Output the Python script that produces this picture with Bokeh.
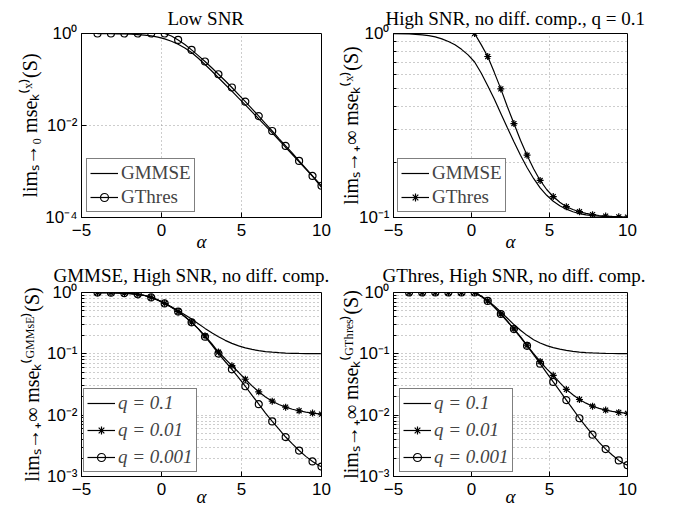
from bokeh.plotting import figure
from bokeh.layouts import column, row
from bokeh.models import (Range1d, FixedTicker, CustomJSTickFormatter, Legend,
                          LegendItem, Title)
from bokeh.embed import file_html
from bokeh.resources import INLINE

# ------------------------------------------------------------------ data
alpha = [-4.0, -3.58, -3.16, -2.74, -2.32, -1.9, -1.48, -1.06, -0.64, -0.22,
         0.2, 0.62, 1.04, 1.46, 1.88, 2.3, 2.72, 3.14, 3.56, 3.98,
         4.4, 4.82, 5.24, 5.66, 6.08, 6.5, 6.92, 7.34, 7.76, 8.18,
         8.6, 9.02, 9.44, 9.86, 10.0]
alpha_from_02 = [0.2, 0.62, 1.04, 1.46, 1.88, 2.3, 2.72, 3.14, 3.56, 3.98,
                 4.4, 4.82, 5.24, 5.66, 6.08, 6.5, 6.92, 7.34, 7.76, 8.18,
                 8.6, 9.02, 9.44, 9.86, 10.0]
alpha_tr_gmmse = [-5.0, -4.0, -3.58, -3.16, -2.74, -2.32, -1.9, -1.48, -1.06, -0.64,
                  -0.22, 0.2, 0.62, 1.04, 1.46, 1.88, 2.3, 2.72, 3.14, 3.56,
                  3.98, 4.4, 4.82, 5.24, 5.66, 6.08, 6.5, 6.92, 7.34, 7.76,
                  8.18, 8.6, 9.02, 9.44, 9.86, 10.0]

# Low SNR
tl_gmmse = [0.997, 0.995, 0.99, 0.984, 0.976, 0.964, 0.947, 0.922, 0.888, 0.835,
            0.765, 0.68, 0.585, 0.485, 0.385, 0.29, 0.212, 0.153, 0.109, 0.078,
            0.056, 0.0395, 0.028, 0.0197, 0.0139, 0.0098, 0.0069, 0.0048, 0.00335, 0.00234,
            0.00163, 0.00113, 0.00078, 0.00052, 0.00045]
tl_gthres = [1.0, 1.0, 1.0, 1.0, 1.0, 1.0, 1.0, 1.0, 1.0, 1.0,
             1.0, 0.88, 0.726, 0.575, 0.44, 0.33, 0.246, 0.18, 0.13, 0.094,
             0.067, 0.047, 0.033, 0.023, 0.016, 0.011, 0.0076, 0.0052, 0.0036, 0.0025,
             0.0017, 0.00117, 0.0008, 0.00055, 0.00049]

# High SNR, q = 0.1
tr_gmmse = [0.998, 0.995, 0.99, 0.983, 0.973, 0.958, 0.935, 0.905, 0.868, 0.82,
            0.765, 0.70, 0.61, 0.52, 0.44, 0.368, 0.307, 0.258, 0.218, 0.187,
            0.163, 0.145, 0.132, 0.1225, 0.1158, 0.111, 0.1075, 0.105, 0.1034, 0.1023,
            0.1016, 0.1011, 0.1007, 0.1005, 0.1003, 0.1003]
tr_gthres = [1.0, 0.87, 0.75, 0.615, 0.50, 0.40, 0.324, 0.263, 0.218, 0.184,
             0.159, 0.142, 0.130, 0.121, 0.1145, 0.1105, 0.1075, 0.1052, 0.1036, 0.1025,
             0.1018, 0.1013, 0.1009, 0.1006, 0.1005]

# GMMSE, high SNR
bl_q1 = [0.998, 0.996, 0.993, 0.987, 0.977, 0.96, 0.935, 0.895, 0.835, 0.755,
         0.67, 0.585, 0.505, 0.435, 0.37, 0.31, 0.26, 0.22, 0.19, 0.166,
         0.148, 0.135, 0.125, 0.118, 0.1128, 0.109, 0.1063, 0.1044, 0.103, 0.102,
         0.1014, 0.101, 0.1007, 0.1005, 0.1004]
bl_q2 = [0.997, 0.995, 0.992, 0.986, 0.976, 0.959, 0.933, 0.893, 0.832, 0.752,
         0.665, 0.575, 0.49, 0.405, 0.328, 0.258, 0.196, 0.146, 0.107, 0.083,
         0.064, 0.050, 0.0385, 0.030, 0.024, 0.0198, 0.0169, 0.0149, 0.0135, 0.0125,
         0.0118, 0.0112, 0.0108, 0.0105, 0.0104]
bl_q3 = [0.997, 0.995, 0.992, 0.986, 0.976, 0.959, 0.933, 0.893, 0.832, 0.752,
         0.664, 0.573, 0.488, 0.403, 0.326, 0.255, 0.19, 0.14, 0.101, 0.075,
         0.056, 0.041, 0.0296, 0.0211, 0.0151, 0.0108, 0.0079, 0.0059, 0.0044, 0.0034,
         0.00265, 0.00213, 0.00176, 0.0015, 0.00145]

# GThres, high SNR
br_q1 = [1.0, 1.0, 1.0, 1.0, 1.0, 1.0, 1.0, 1.0, 1.0, 1.0,
         1.0, 0.875, 0.74, 0.605, 0.48, 0.38, 0.30, 0.243, 0.20, 0.17,
         0.15, 0.136, 0.126, 0.119, 0.1135, 0.1097, 0.107, 0.105, 0.1035, 0.1024,
         0.1017, 0.1012, 0.1008, 0.1006, 0.1005]
br_q2 = [1.0, 1.0, 1.0, 1.0, 1.0, 1.0, 1.0, 1.0, 1.0, 1.0,
         1.0, 0.865, 0.73, 0.578, 0.447, 0.34, 0.256, 0.19, 0.138, 0.101,
         0.075, 0.057, 0.0447, 0.034, 0.0263, 0.0215, 0.018, 0.0157, 0.014, 0.0129,
         0.0121, 0.0115, 0.0111, 0.0108, 0.0107]
br_q3 = [1.0, 1.0, 1.0, 1.0, 1.0, 1.0, 1.0, 1.0, 1.0, 1.0,
         1.0, 0.865, 0.73, 0.577, 0.446, 0.338, 0.253, 0.186, 0.135, 0.097,
         0.069, 0.049, 0.0348, 0.0248, 0.0176, 0.0125, 0.0089, 0.0065, 0.0048, 0.0036,
         0.0028, 0.00224, 0.00183, 0.00158, 0.00153]

x_ticks = [-5, 0, 5, 10]
legend_tl = ["GMMSE", "GThres"]
legend_q = ["q = 0.1", "q = 0.01", "q = 0.001"]
titles = ["Low SNR", "High SNR, no diff. comp., q = 0.1",
          "GMMSE, High SNR, no diff. comp.", "GThres, High SNR, no diff. comp."]
ylabels = ["lim\u209b\u2192\u2080 mse\u2096\u207d\u02e3\u207e(S)",
           "lim\u209b\u2192\u208a\u221e mse\u2096\u207d\u02e3\u207e(S)",
           "lim\u209b\u2192\u208a\u221e mse\u2096\u207d\u1d33\u1d39\u1d39\u02e2\u1d31\u207e(S)",
           "lim\u209b\u2192\u208a\u221e mse\u2096\u207d\u1d33\u1d40\u02b0\u02b3\u1d49\u02e2\u207e(S)"]
xlabel = "\u03b1"

# ------------------------------------------------------------------ style
SERIF = "Liberation Serif"
SANS = "Liberation Sans"
GRID = "#9a9a9a"
LW = 1.2
MS = 7


def make_fig(w, h, bl, br, bt, bb, ylo, yhi, yticks, yminor, xlab_standoff,
             ylab, ylab_standoff, title, t_offset, t_standoff):
    p = figure(width=w, height=h, x_range=Range1d(-5, 10), y_range=Range1d(ylo, yhi),
               y_axis_type="log", output_backend="svg", toolbar_location=None,
               title=None, min_border_left=bl, min_border_right=br,
               min_border_top=bt, min_border_bottom=bb)
    xt = FixedTicker(ticks=x_ticks, minor_ticks=[])
    yt = FixedTicker(ticks=yticks, minor_ticks=yminor)
    p.xaxis.ticker = xt
    p.yaxis.ticker = yt
    p.xgrid.ticker = xt
    p.ygrid.ticker = yt
    p.xaxis.formatter = CustomJSTickFormatter(
        code='return tick < 0 ? "\\u2212" + String(-tick) : String(tick);')
    p.yaxis.formatter = CustomJSTickFormatter(code="""
const sup = {"0":"\\u2070","1":"\\u00b9","2":"\\u00b2","3":"\\u00b3","4":"\\u2074","-":"\\u207b"};
const e = Math.round(Math.log10(tick));
return "10" + String(e).split("").map(c => sup[c]).join("");
""")
    for ax in (p.xaxis[0], p.yaxis[0]):
        ax.major_label_text_font = SANS
        ax.major_label_text_font_size = "17px"
        ax.major_label_text_color = "black"
        ax.major_tick_in = 5
        ax.major_tick_out = 0
        ax.minor_tick_in = 3
        ax.minor_tick_out = 0
        ax.axis_line_color = "black"
        ax.major_tick_line_color = "black"
        ax.minor_tick_line_color = "black"
        ax.axis_label_text_font = SERIF
        ax.axis_label_text_color = "black"
    p.xaxis.major_label_standoff = 6
    p.yaxis.major_label_standoff = 4
    p.xaxis.axis_label = xlabel
    p.xaxis.axis_label_text_font_style = "italic"
    p.xaxis.axis_label_text_font_size = "19px"
    p.xaxis.axis_label_standoff = xlab_standoff
    p.yaxis.axis_label = ylab
    p.yaxis.axis_label_text_font_style = "normal"
    p.yaxis.axis_label_text_font_size = "20px"
    p.yaxis.axis_label_standoff = ylab_standoff
    p.xgrid.grid_line_color = GRID
    p.xgrid.grid_line_dash = "1 3"
    p.ygrid.grid_line_color = GRID
    p.ygrid.grid_line_dash = "1 3"
    if yminor:
        p.ygrid.minor_grid_line_color = GRID
        p.ygrid.minor_grid_line_dash = "1 3"
    p.outline_line_color = "black"
    p.outline_line_width = 1
    p.outline_line_alpha = 1
    p.background_fill_color = "white"
    p.border_fill_color = "white"
    p.add_layout(Title(text=title, align="left", offset=t_offset, standoff=t_standoff,
                       vertical_align="bottom", text_font=SERIF,
                       text_font_size="19px", text_font_style="normal",
                       text_color="black"), "above")
    return p


def legend(p, items, loc, italic=False, spacing=2):
    lg = Legend(items=[LegendItem(label=t, renderers=r) for t, r in items],
                location=loc, label_text_font=SERIF, label_text_font_size="19px",
                label_text_font_style="italic" if italic else "normal",
                glyph_width=28, glyph_height=20, label_height=22, label_standoff=3,
                padding=3, spacing=spacing, border_line_color="black",
                border_line_width=1, background_fill_color="white",
                background_fill_alpha=1)
    p.add_layout(lg)


# ---- top-left
p1 = make_fig(336, 255, 81, 15, 33, 38, 1e-4, 1.0, [1e-4, 1e-2, 1.0], [], -8,
              ylabels[0], 1, titles[0], 86, 10)
r_g = p1.line(alpha, tl_gmmse, line_color="black", line_width=LW)
r_t = p1.line(alpha, tl_gthres, line_color="black", line_width=LW)
r_tm = p1.scatter(alpha[::2], tl_gthres[::2], marker="circle", size=MS,
                  fill_color=None, line_color="black", line_width=LW)
legend(p1, [(legend_tl[0], [r_g]), (legend_tl[1], [r_t, r_tm])], (5, 5))

# ---- top-right
p2 = make_fig(341, 255, 57, 50, 33, 38, 0.1, 1.0, [0.1, 1.0],
              [0.2, 0.3, 0.4, 0.5, 0.6, 0.7, 0.8, 0.9], -8,
              ylabels[1], -6, titles[1], -8, 10)
r_g2 = p2.line(alpha_tr_gmmse, tr_gmmse, line_color="black", line_width=LW)
r_t2 = p2.line(alpha_from_02, tr_gthres, line_color="black", line_width=LW)
r_tm2 = p2.scatter(alpha_from_02[::2], tr_gthres[::2], marker="asterisk", size=MS,
                   line_color="black", line_width=LW)
legend(p2, [(legend_tl[0], [r_g2]), (legend_tl[1], [r_t2, r_tm2])], (4, 5))

# ---- bottom panels
minor3 = [k * 10.0 ** e for e in (-3, -2, -1) for k in range(2, 10)]


def q_panel(w, bl, br, q1, q2, q3, ylab, ylab_standoff, title, t_offset):
    p = make_fig(w, 255, bl, br, 37, 34, 1e-3, 1.0, [1e-3, 1e-2, 1e-1, 1.0], minor3,
                 -12, ylab, ylab_standoff, title, t_offset, 14)
    a = p.line(alpha, q1, line_color="black", line_width=LW)
    b = p.line(alpha, q2, line_color="black", line_width=LW)
    bm = p.scatter(alpha[::2], q2[::2], marker="asterisk", size=MS,
                   line_color="black", line_width=LW)
    c = p.line(alpha, q3, line_color="black", line_width=LW)
    cm = p.scatter(alpha[::2], q3[::2], marker="circle", size=MS,
                   fill_color=None, line_color="black", line_width=LW)
    return p, [(legend_q[0], [a]), (legend_q[1], [b, bm]), (legend_q[2], [c, cm])]


p3, items3 = q_panel(336, 81, 15, bl_q1, bl_q2, bl_q3, ylabels[2], 1, titles[2], -28)
legend(p3, items3, (2, 4), italic=True, spacing=5)

p4, items4 = q_panel(341, 57, 50, br_q1, br_q2, br_q3, ylabels[3], -6, titles[3], -11)
legend(p4, items4, (6, 4), italic=True, spacing=5)

layout = column(row(p1, p2), row(p3, p4))
open("out.html", "w").write(file_html(layout, INLINE))
